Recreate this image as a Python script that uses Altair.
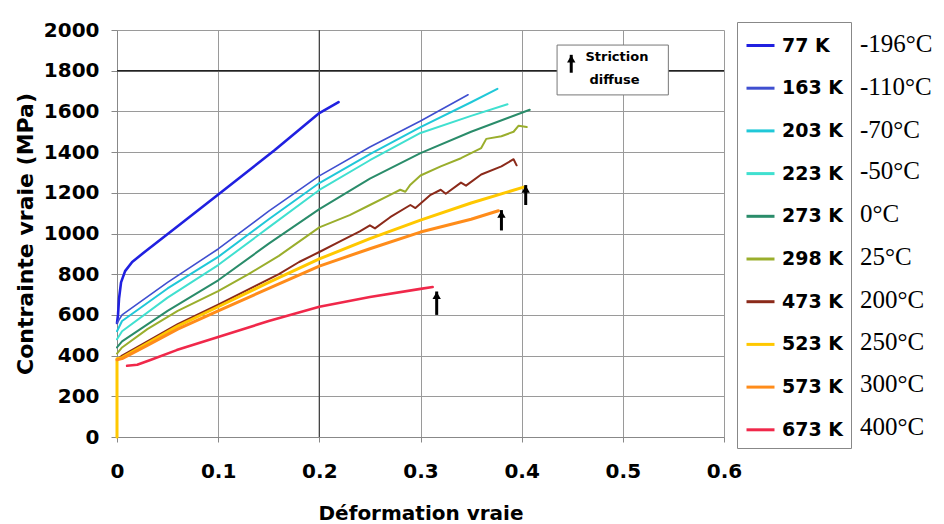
import altair as alt
import pandas as pd

# ---------------- data ----------------
series = ["77 K", "163 K", "203 K", "223 K", "273 K", "298 K", "473 K", "523 K", "573 K", "673 K"]
celsius = ["-196°C", "-110°C", "-70°C", "-50°C", "0°C", "25°C", "200°C", "250°C", "300°C", "400°C"]
colors = ["#2020e0", "#3f4fd0", "#20c8d8", "#40e0d0", "#2a8c6a", "#9aae2c", "#8b2a1a", "#ffc800", "#ff8c1a", "#f0284a"]
widths = [2.6, 1.6, 2.0, 2.0, 2.0, 2.0, 2.0, 3.0, 3.0, 2.6]

x_77 = [0.0, 0.001, 0.002, 0.004, 0.008, 0.015, 0.026, 0.059, 0.102, 0.156, 0.2, 0.219]
y_77 = [560, 600, 680, 760, 815, 860, 904, 1032, 1199, 1410, 1592, 1646]

x_163 = [0.0, 0.005, 0.05, 0.1, 0.15, 0.2, 0.25, 0.3, 0.347]
y_163 = [560, 600, 760, 924, 1110, 1283, 1425, 1553, 1682]

x_203 = [0.0, 0.005, 0.05, 0.1, 0.15, 0.2, 0.25, 0.3, 0.35, 0.376]
y_203 = [520, 570, 730, 885, 1070, 1248, 1390, 1523, 1645, 1711]

x_223 = [0.0, 0.005, 0.05, 0.1, 0.15, 0.2, 0.25, 0.3, 0.35, 0.386]
y_223 = [480, 520, 685, 845, 1030, 1214, 1360, 1494, 1578, 1635]

x_273 = [0.0, 0.005, 0.05, 0.1, 0.15, 0.2, 0.25, 0.3, 0.35, 0.408]
y_273 = [440, 470, 620, 770, 950, 1120, 1270, 1395, 1500, 1608]

x_298 = [0.0, 0.005, 0.03, 0.06, 0.1, 0.13, 0.16, 0.2, 0.23, 0.25, 0.27, 0.28, 0.285, 0.29, 0.3,
         0.32, 0.34, 0.36, 0.365, 0.38, 0.392, 0.397, 0.405]
y_298 = [410, 440, 530, 620, 717, 800, 890, 1030, 1090, 1140, 1190, 1215, 1205, 1240, 1285,
         1330, 1370, 1420, 1465, 1478, 1500, 1530, 1523]

x_473 = [0.0, 0.0, 0.005, 0.03, 0.06, 0.1, 0.13, 0.16, 0.18, 0.2, 0.22, 0.24, 0.25, 0.255, 0.27,
         0.29, 0.295, 0.31, 0.32, 0.325, 0.34, 0.345, 0.36, 0.38, 0.392, 0.395]
y_473 = [190, 380, 400, 470, 555, 650, 725, 800, 860, 909, 960, 1010, 1040, 1025, 1080,
         1140, 1125, 1190, 1215, 1195, 1250, 1235, 1290, 1330, 1365, 1335]

x_523 = [0.0, 0.0, 0.005, 0.03, 0.06, 0.1, 0.15, 0.2, 0.25, 0.3, 0.35, 0.402]
y_523 = [0, 385, 390, 460, 545, 640, 760, 875, 975, 1066, 1150, 1228]

x_573 = [0.0, 0.005, 0.03, 0.06, 0.1, 0.15, 0.2, 0.25, 0.3, 0.35, 0.377]
y_573 = [380, 385, 450, 530, 620, 730, 840, 925, 1007, 1070, 1112]

x_673 = [0.01, 0.02, 0.033, 0.059, 0.1, 0.15, 0.2, 0.25, 0.3, 0.312]
y_673 = [350, 355, 378, 427, 491, 570, 640, 688, 728, 737]

x_ticks = [0, 0.1, 0.2, 0.3, 0.4, 0.5, 0.6]
y_ticks = [0, 200, 400, 600, 800, 1000, 1200, 1400, 1600, 1800, 2000]

# arrows marking "striction diffuse"
arrow_x = [0.316, 0.380, 0.404, 0.449]
arrow_lo = [600, 1015, 1140, 1790]
arrow_hi = [715, 1115, 1238, 1878]

# annotation box
box_x = [0.435]
box_x2 = [0.545]
box_y = [1681]
box_y2 = [1926]
note_text = ["Striction", "diffuse"]
note_x = [0.463, 0.467]
note_y = [1867, 1754]

dark_h = [1800]
dark_v = [0.2]

# ---------------- build tables ----------------
xs_all = [x_77, x_163, x_203, x_223, x_273, x_298, x_473, x_523, x_573, x_673]
ys_all = [y_77, y_163, y_203, y_223, y_273, y_298, y_473, y_523, y_573, y_673]

rows = []
for name, c, w, xs, ys in zip(series, celsius, widths, xs_all, ys_all):
    for i, (x, y) in enumerate(zip(xs, ys)):
        rows.append({"serie": name, "celsius": c, "w": w, "x": x, "y": y, "i": i})
df = pd.DataFrame(rows)
df_first = df[df["i"] == 0].copy()

arrows = pd.DataFrame({"x": arrow_x, "lo": arrow_lo, "hi": arrow_hi})
box = pd.DataFrame({"x": box_x, "x2": box_x2, "y": box_y, "y2": box_y2})
notes = pd.DataFrame({"t": note_text, "x": note_x, "y": note_y})

FONT = "DejaVu Sans"

xscale = alt.Scale(domain=[0, 0.6], nice=False, zero=False)
yscale = alt.Scale(domain=[0, 2000], nice=False)

x_axis = alt.Axis(values=x_ticks, format="~g", title="Déformation vraie",
                  labelFont=FONT, labelFontWeight="bold", labelFontSize=20, labelColor="black",
                  labelPadding=19, labelFlush=False, labelOverlap=False,
                  tickSize=5, tickColor="#888", domainColor="#888",
                  grid=True, gridColor="#9a9a9a", gridWidth=1,
                  titleFont=FONT, titleFontWeight="bold", titleFontSize=20, titleColor="black",
                  titlePadding=22)
y_axis = alt.Axis(values=y_ticks, format="d", title="Contrainte vraie (MPa)",
                  labelFont=FONT, labelFontWeight="bold", labelFontSize=20, labelColor="black",
                  labelPadding=12, labelOverlap=False,
                  tickSize=6, tickColor="#888", domainColor="#888",
                  grid=True, gridColor="#9a9a9a", gridWidth=1,
                  titleFont=FONT, titleFontWeight="bold", titleFontSize=22, titleColor="black",
                  titlePadding=6)

X = alt.X("x:Q", scale=xscale, axis=x_axis)
Y = alt.Y("y:Q", scale=yscale, axis=y_axis)

hrule = alt.Chart(pd.DataFrame({"y": dark_h})).mark_rule(color="#222", strokeWidth=1.6).encode(y=alt.Y("y:Q", scale=yscale))
vrule = alt.Chart(pd.DataFrame({"x": dark_v})).mark_rule(color="#444", strokeWidth=1.3).encode(x=alt.X("x:Q", scale=xscale))

box_layer = alt.Chart(box).mark_rect(fill="white", stroke="#777", strokeWidth=1).encode(
    x=alt.X("x:Q", scale=xscale), x2="x2:Q", y=alt.Y("y:Q", scale=yscale), y2="y2:Q")

lines = alt.Chart(df).mark_line(strokeJoin="round", strokeCap="round").encode(
    x=X, y=Y,
    color=alt.Color("serie:N", sort=series, scale=alt.Scale(domain=series, range=colors),
                    legend=alt.Legend(orient="none", legendX=620, legendY=-8, title=None,
                                      symbolType="stroke", symbolSize=784, symbolStrokeWidth=3,
                                      labelFont=FONT, labelFontWeight="bold", labelFontSize=19,
                                      labelColor="black", labelOffset=6, padding=8,
                                      rowPadding=16.7, strokeColor="#888", fillColor="white",
                                      labelLimit=200)),
    order=alt.Order("i:Q"),
    strokeWidth=alt.StrokeWidth("w:Q", scale=None, legend=None),
)

shaft = alt.Chart(arrows).mark_rule(color="black", strokeWidth=3).encode(
    x=alt.X("x:Q", scale=xscale), y=alt.Y("lo:Q", scale=yscale), y2="hi:Q")
head = alt.Chart(arrows).mark_point(shape="triangle-up", filled=True, color="black", size=70,
                                    opacity=1, yOffset=4).encode(
    x=alt.X("x:Q", scale=xscale), y=alt.Y("hi:Q", scale=yscale))

note_layer = alt.Chart(notes).mark_text(font=FONT, fontWeight="bold", fontSize=13, align="left",
                                        baseline="middle", color="black").encode(
    x=alt.X("x:Q", scale=xscale), y=alt.Y("y:Q", scale=yscale), text="t:N")

celsius_layer = alt.Chart(df_first).mark_point(opacity=0).encode(
    x=alt.X("x:Q", scale=xscale), y=alt.Y("y:Q", scale=yscale),
    shape=alt.Shape("celsius:N", sort=celsius,
                    legend=alt.Legend(orient="none", legendX=703, legendY=-8, title=None,
                                      symbolSize=784, symbolOpacity=0, symbolStrokeWidth=0,
                                      labelFont="Liberation Serif", labelFontSize=25,
                                      labelColor="black", labelOffset=4, padding=8,
                                      rowPadding=14.8, labelLimit=200)),
)

chart = alt.layer(hrule, vrule, box_layer, lines, shaft, head, note_layer, celsius_layer).resolve_legend(
    color="independent", shape="independent"
).properties(
    width=607, height=407,
    autosize=alt.AutoSizeParams(type="none"),
    padding={"left": 117, "top": 30, "right": 220, "bottom": 87},
    background="white",
).configure_view(stroke=None)

chart.save("out.html", embed_options={"renderer": "svg", "actions": False})
